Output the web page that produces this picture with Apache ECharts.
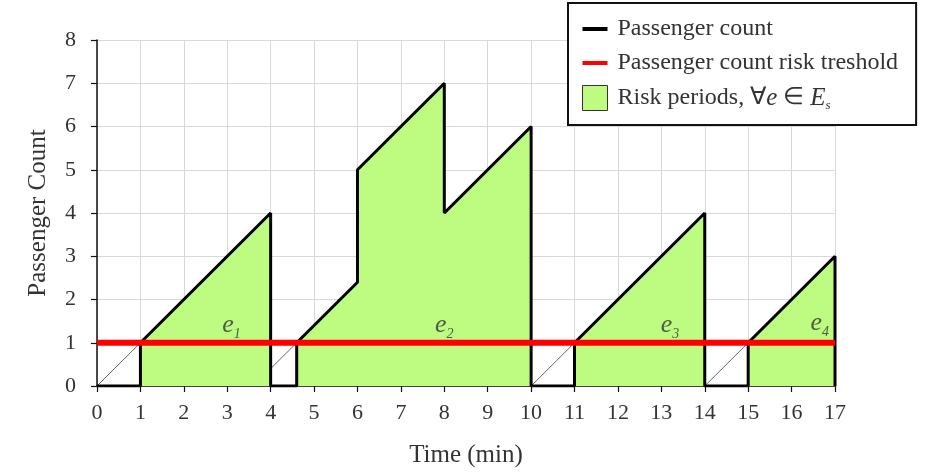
<!DOCTYPE html>
<html>
<head>
<meta charset="utf-8">
<script src="https://cdn.jsdelivr.net/npm/echarts@6/dist/echarts.min.js"></script>
<style>html,body{margin:0;padding:0;background:#fff}#c{width:933px;height:474px}</style>
</head>
<body>
<div id="c"></div>
<script>
// ---- data ----
const timeValues  = [0, 1, 1, 4, 4, 4.6, 4.6, 6, 6, 8, 8, 10, 10, 11, 11, 14, 14, 15, 15, 17, 17];
const countValues = [0, 0, 1, 4, 0, 0,   1,   2.4, 5, 7, 4, 6, 0, 0, 1, 4, 0, 0, 1, 3, 0];
const thresholdValue = 1;
const riskStart = [1, 4.6, 11, 15];
const riskEnd   = [4, 10, 14, 17];
const guideX0 = [0, 4, 10, 14];
const guideY0 = [0, 0.4, 0, 0];
const guideX1 = [1, 4.6, 11, 15];
const guideY1 = [1, 1, 1, 1];
const eventNames = ['1', '2', '3', '4'];
const eventX = [3.1, 8.0, 13.2, 16.65];
const eventY = [1.4, 1.4, 1.4, 1.45];
const xTickLabels = ['0','1','2','3','4','5','6','7','8','9','10','11','12','13','14','15','16','17'];
const yTickLabels = ['0','1','2','3','4','5','6','7','8'];

const NAME_COUNT = 'Passenger count';
const NAME_THR = 'Passenger count risk treshold';
const NAME_RISK = 'Risk periods, \u2200e \u2208 Es';
const FONT = 'Liberation Serif';

const linePoints = timeValues.map((t, i) => [t, countValues[i]]);

const series = [];
// risk period fills
riskStart.forEach((s, k) => {
  const pts = linePoints.filter(p => p[0] >= s && p[0] <= riskEnd[k]);
  series.push({
    name: NAME_RISK, type: 'line', data: pts, symbol: 'none', silent: true,
    lineStyle: { width: 0, color: '#bdfc80' },
    itemStyle: { color: '#bdfc80', borderColor: '#222', borderWidth: 1 },
    areaStyle: { color: '#bdfc80', opacity: 1 }, z: 1
  });
});
// thin guide lines
guideX0.forEach((x0, k) => {
  series.push({
    name: 'guide' + k, type: 'line', symbol: 'none', silent: true,
    data: [[x0, guideY0[k]], [guideX1[k], guideY1[k]]],
    lineStyle: { width: 1, color: '#666' }, z: 2
  });
});
// passenger count
series.push({
  name: NAME_COUNT, type: 'line', data: linePoints, symbol: 'none',
  lineStyle: { width: 3, color: '#000' }, itemStyle: { color: '#000' }, z: 3
});
// threshold
series.push({
  name: NAME_THR, type: 'line', symbol: 'none',
  data: [[0, thresholdValue], [17, thresholdValue]],
  lineStyle: { width: 6, color: '#ff0000' }, itemStyle: { color: '#ff0000' }, z: 4
});
// event labels
series.push({
  name: 'events', type: 'scatter', symbolSize: 0, silent: true, z: 5,
  data: eventX.map((x, i) => ({ value: [x, eventY[i]], sub: eventNames[i] })),
  label: {
    show: true, position: 'inside',
    formatter: p => '{e|e}{s|' + p.data.sub + '}',
    rich: {
      e: { fontFamily: FONT, fontStyle: 'italic', fontSize: 26, color: '#333', lineHeight: 32 },
      s: { fontFamily: FONT, fontStyle: 'italic', fontSize: 14, color: '#333', lineHeight: 14, verticalAlign: 'bottom' }
    }
  }
});

const chart = echarts.init(document.getElementById('c'));
chart.setOption({
  animation: false,
  backgroundColor: '#fff',
  grid: { left: 97, right: 98, top: 40, bottom: 88, containLabel: false },
  xAxis: {
    type: 'value', min: 0, max: 17, interval: 1,
    name: 'Time (min)', nameLocation: 'middle', nameGap: 57,
    nameTextStyle: { fontFamily: FONT, fontSize: 25, color: '#333' },
    axisLine: { show: true, onZero: false, lineStyle: { color: '#111', width: 1.5 } },
    axisTick: { show: true, length: 6, inside: false, lineStyle: { color: '#111', width: 1.2 } },
    axisLabel: { margin: 16, fontFamily: FONT, fontSize: 22, color: '#333', formatter: v => xTickLabels[v] ?? '' },
    splitLine: { show: true, lineStyle: { color: '#d8d8d8', width: 1 } }
  },
  yAxis: {
    type: 'value', min: 0, max: 8, interval: 1,
    name: 'Passenger Count', nameLocation: 'middle', nameGap: 46,
    nameTextStyle: { fontFamily: FONT, fontSize: 25, color: '#333' },
    axisLine: { show: true, onZero: false, lineStyle: { color: '#111', width: 1.5 } },
    axisTick: { show: true, length: 6, inside: false, lineStyle: { color: '#111', width: 1.2 } },
    axisLabel: { margin: 21, fontFamily: FONT, fontSize: 22, color: '#333', formatter: v => yTickLabels[v] ?? '' },
    splitLine: { show: true, lineStyle: { color: '#d8d8d8', width: 1 } }
  },
  legend: {
    orient: 'vertical', left: 568, top: 3,
    backgroundColor: '#fff', borderColor: '#111', borderWidth: 2, borderRadius: 0,
    padding: [14, 18, 13, 14], itemGap: 10, itemWidth: 25, itemHeight: 25,
    selectedMode: false,
    data: [
      { name: NAME_COUNT, icon: 'path://M0,0H25V4H0Z' , itemStyle: { color: '#000' } },
      { name: NAME_THR, icon: 'path://M0,0H25V4H0Z', itemStyle: { color: '#ff0000' } },
      { name: NAME_RISK, icon: 'rect', itemStyle: { color: '#bdfc80', borderColor: '#333', borderWidth: 1 } }
    ],
    formatter: name => name === NAME_RISK
      ? '{n|Risk periods, \u2200}{i|e}{n| \u2208 }{i|E}{s|s}'
      : '{n|' + name + '}',
    textStyle: {
      fontFamily: FONT, fontSize: 24, color: '#333', padding: [0, 0, 0, 5],
      rich: {
        n: { fontFamily: FONT, fontSize: 24, color: '#333', lineHeight: 28 },
        i: { fontFamily: FONT, fontSize: 25, fontStyle: 'italic', color: '#333', lineHeight: 28 },
        s: { fontFamily: FONT, fontSize: 13, fontStyle: 'italic', color: '#333', lineHeight: 13, verticalAlign: 'bottom' }
      }
    }
  },
  series: series
});
</script>
</body>
</html>
